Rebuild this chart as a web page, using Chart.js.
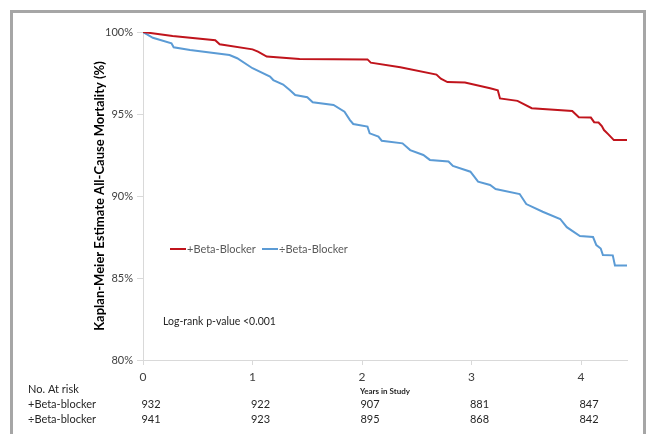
<!DOCTYPE html>
<html>
<head>
<meta charset="utf-8">
<script src="https://cdn.jsdelivr.net/npm/chart.js@4"></script>
<style>
  body { margin: 0; background: #fff; }
  #wrap { position: relative; width: 647px; height: 434px; overflow: hidden; }
  #frame { position: absolute; left: 10px; top: 10px; width: 636px; height: 440px;
           border: 3px solid #a6a6a6; box-sizing: border-box; }
  canvas { position: absolute; left: 0; top: 0; }
</style>
</head>
<body>
<div id="wrap">
  <div id="frame"></div>
  <canvas id="myChart" width="647" height="434"></canvas>
</div>
<script>
// Years in study and survival estimate (%) for each curve
var withYears = [0, 0.27, 0.66, 0.70, 1.0, 1.05, 1.13, 1.43, 2.05, 2.08, 2.35, 2.68, 2.72, 2.78, 2.94, 3.17, 3.24, 3.26, 3.42, 3.55, 3.92, 3.98, 4.09, 4.12, 4.16, 4.19, 4.21, 4.25, 4.30, 4.42];
var withSurv  = [100, 99.76, 99.5, 99.25, 98.94, 98.8, 98.5, 98.35, 98.33, 98.13, 97.85, 97.4, 97.15, 96.95, 96.92, 96.57, 96.45, 95.95, 95.8, 95.35, 95.18, 94.8, 94.78, 94.5, 94.48, 94.26, 94.02, 93.76, 93.41, 93.41];

var withoutYears = [0, 0.09, 0.26, 0.28, 0.43, 0.79, 0.86, 1.0, 1.16, 1.19, 1.28, 1.34, 1.39, 1.5, 1.55, 1.74, 1.84, 1.89, 1.92, 2.05, 2.07, 2.15, 2.18, 2.37, 2.44, 2.56, 2.62, 2.79, 2.83, 2.99, 3.06, 3.17, 3.22, 3.44, 3.5, 3.65, 3.81, 3.87, 3.92, 3.99, 4.11, 4.14, 4.18, 4.20, 4.29, 4.31, 4.42];
var withoutSurv  = [100, 99.65, 99.31, 99.07, 98.9, 98.6, 98.4, 97.79, 97.28, 97.07, 96.8, 96.46, 96.16, 96.02, 95.71, 95.55, 95.14, 94.63, 94.39, 94.23, 93.82, 93.62, 93.37, 93.21, 92.8, 92.5, 92.2, 92.1, 91.83, 91.48, 90.87, 90.67, 90.43, 90.12, 89.51, 89.04, 88.6, 88.1, 87.87, 87.56, 87.5, 87.01, 86.8, 86.4, 86.38, 85.76, 85.76];

// Number at risk table
var riskYears = [0, 1, 2, 3, 4];
var riskWith = [932, 922, 907, 881, 847];
var riskWithout = [941, 923, 895, 868, 842];

var seriesNames = ["+Beta-Blocker", "\u00f7Beta-Blocker"];
var rowNames = ["+Beta-blocker", "\u00f7Beta-blocker"];

function toPoints(xs, ys) {
  return xs.map(function (x, i) { return { x: x, y: ys[i] }; });
}

var FONT = "Lato, 'Open Sans', sans-serif";

var extras = {
  id: 'extras',
  afterDraw: function (chart) {
    var ctx = chart.ctx;
    var xs = chart.scales.x;
    ctx.save();
    // legend
    var legend = [[170, seriesNames[0], '#c0141c'], [262, seriesNames[1], '#5b9bd5']];
    ctx.font = "11px " + FONT;
    ctx.textBaseline = 'middle';
    legend.forEach(function (l) {
      ctx.strokeStyle = l[2];
      ctx.lineWidth = 2;
      ctx.beginPath();
      ctx.moveTo(l[0], 249);
      ctx.lineTo(l[0] + 16, 249);
      ctx.stroke();
      ctx.fillStyle = '#595959';
      ctx.textAlign = 'left';
      ctx.fillText(l[1], l[0] + 17, 249);
    });
    // log-rank note
    ctx.fillStyle = '#262626';
    ctx.font = "10.5px " + FONT;
    ctx.fillText('Log-rank p-value <0.001', 163, 322);
    // at-risk table
    ctx.font = "11px " + FONT;
    ctx.fillText('No. At risk', 28, 389);
    ctx.fillText(rowNames[0], 28, 404);
    ctx.fillText(rowNames[1], 28, 419);
    ctx.textAlign = 'center';
    riskYears.forEach(function (yr, i) {
      var px = xs.getPixelForValue(yr) + 8;
      ctx.fillText(String(riskWith[i]), px, 404);
      ctx.fillText(String(riskWithout[i]), px, 419);
    });
    ctx.restore();
  }
};

var myChart = new Chart("myChart", {
  type: 'scatter',
  data: {
    datasets: [
      {
        label: seriesNames[0],
        data: toPoints(withYears, withSurv),
        showLine: true,
        borderColor: "#c0141c",
        borderWidth: 2,
        pointRadius: 0,
        fill: false
      },
      {
        label: seriesNames[1],
        data: toPoints(withoutYears, withoutSurv),
        showLine: true,
        borderColor: "#5b9bd5",
        borderWidth: 2,
        pointRadius: 0,
        fill: false
      }
    ]
  },
  options: {
    responsive: false,
    animation: false,
    layout: { padding: { top: 32, right: 20, left: 0, bottom: 0 } },
    plugins: { legend: { display: false }, tooltip: { enabled: false } },
    scales: {
      x: {
        type: 'linear',
        min: 0,
        max: 4.42,
        afterBuildTicks: function (s) {
          s.ticks = s.ticks.filter(function (t) { return Number.isInteger(t.value); });
        },
        afterFit: function (s) { s.height = 74; },
        ticks: { stepSize: 1, padding: 5, color: '#404040', font: { family: FONT, size: 12 } },
        grid: { drawOnChartArea: false, drawTicks: true, tickLength: 5, color: '#d9d9d9' },
        border: { color: '#d9d9d9' },
        title: {
          display: true,
          text: 'Years in Study',
          color: '#262626',
          font: { family: FONT, size: 8, weight: 'bold' },
          padding: { top: 0, bottom: 38 }
        }
      },
      y: {
        min: 80,
        max: 100,
        afterFit: function (s) { s.width = 143; },
        ticks: {
          stepSize: 5,
          padding: 4,
          color: '#404040',
          font: { family: FONT, size: 11 },
          callback: function (v) { return v + '%'; }
        },
        grid: { drawOnChartArea: false, drawTicks: true, tickLength: 6, color: '#d9d9d9' },
        border: { color: '#d9d9d9' },
        title: {
          display: true,
          text: 'Kaplan-Meier Estimate All-Cause Mortality (%)',
          color: '#000',
          font: { family: FONT, size: 13, weight: 'bold' },
          padding: { top: 92, bottom: 0 }
        }
      }
    }
  },
  plugins: [extras]
});
</script>
</body>
</html>
